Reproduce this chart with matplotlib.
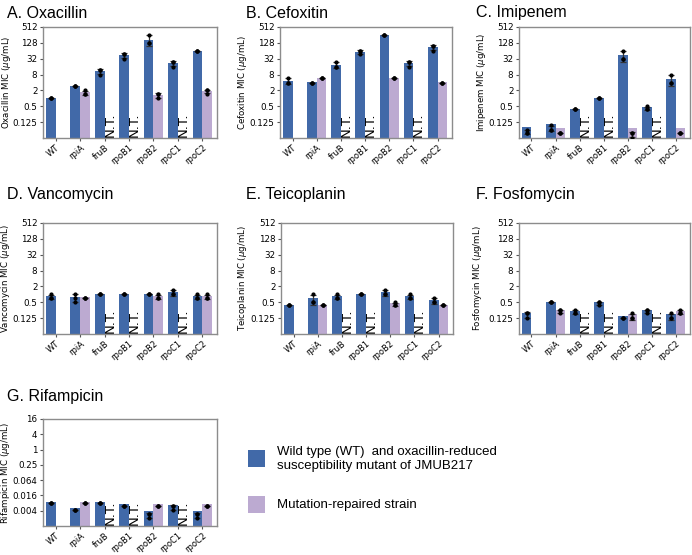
import numpy as np
import matplotlib.pyplot as plt
from matplotlib.patches import Rectangle
from matplotlib.ticker import FixedLocator, FixedFormatter, NullLocator

## strains on the x axis
strains = ['WT', 'rpiA', 'fruB', 'rpoB1', 'rpoB2', 'rpoC1', 'rpoC2']

## MIC replicates (ug/mL); None = no bar (WT has no repaired strain, N.T. = not tested)
oxa_mut = [[1, 1, 1], [3, 3, 3], [12, 12, 8], [48, 48, 32], [256, 128, 128], [24, 24, 16], [64, 64, 64]]
oxa_rep = [None, [2, 1.5, 1.5], None, None, [1.5, 1.5, 1], None, [2, 2, 1.5]]

cfx_mut = [[6, 4, 4], [4, 4, 4], [24, 16, 16], [64, 64, 48], [256, 256, 256], [24, 24, 16], [96, 96, 64]]
cfx_rep = [None, [6, 6, 6], None, None, [6, 6, 6], None, [4, 4, 4]]

ipm_mut = [[0.064, 0.047, 0.047], [0.094, 0.064, 0.064], [0.38, 0.38, 0.38], [1, 1, 1],
           [64, 32, 32], [0.5, 0.38, 0.38], [8, 4, 4]]
ipm_rep = [None, [0.047, 0.047, 0.047], None, None, [0.047, 0.047, 0.032], None, [0.047, 0.047, 0.047]]

van_mut = [[1, 0.75, 0.75], [1, 0.75, 0.5], [1, 1, 1], [1, 1, 1], [1, 1, 1], [1.5, 1, 1], [1, 0.75, 0.75]]
van_rep = [None, [0.75, 0.75, 0.75], None, None, [1, 0.75, 0.75], None, [1, 0.75, 0.75]]

tei_mut = [[0.38, 0.38, 0.38], [1, 0.5, 0.5], [1, 0.75, 0.75], [1, 1, 1], [1.5, 1, 1], [1, 0.75, 0.75], [0.75, 0.5, 0.5]]
tei_rep = [None, [0.38, 0.38, 0.38], None, None, [0.5, 0.38, 0.38], None, [0.38, 0.38, 0.38]]

fos_mut = [[0.19, 0.19, 0.125], [0.5, 0.5, 0.5], [0.25, 0.19, 0.19], [0.5, 0.5, 0.38],
           [0.125, 0.125, 0.125], [0.25, 0.25, 0.19], [0.19, 0.125, 0.125]]
fos_rep = [None, [0.25, 0.25, 0.19], None, None, [0.19, 0.125, 0.125], None, [0.25, 0.19, 0.19]]

rif_mut = [[0.008, 0.008, 0.008], [0.004, 0.004, 0.004], [0.008, 0.008, 0.008], [0.006, 0.006, 0.006],
           [0.003, 0.003, 0.002], [0.006, 0.006, 0.004], [0.003, 0.003, 0.002]]
rif_rep = [None, [0.008, 0.008, 0.008], None, None, [0.006, 0.006, 0.006], None, [0.006, 0.006, 0.006]]

not_tested = ['fruB', 'rpoB1', 'rpoC1']

ticks_std = [0.125, 0.5, 2, 8, 32, 128, 512]
labels_std = ['0.125', '0.5', '2', '8', '32', '128', '512']
ticks_rif = [2**-8, 2**-6, 2**-4, 2**-2, 1, 4, 16]
labels_rif = ['0.004', '0.016', '0.064', '0.25', '1', '4', '16']

W, H = 692, 555
blue = '#4169a8'
lav = '#bcaad1'
title_font = 'Liberation Sans'

fig = plt.figure(figsize=(W / 100, H / 100), dpi=100)


def rect(l, t, r, b):
    return [l / W, 1 - b / H, (r - l) / W, (b - t) / H]


def panel(box, title, drug, mut, rep, ylim, ticks, labels, title_xy, ylab_x):
    ax = fig.add_axes(rect(*box))
    ax.set_yscale('log', base=2)
    ax.set_ylim(*ylim)
    ax.set_xlim(-0.52, 6.6)
    for i, s in enumerate(strains):
        for vals, off, col in [(mut[i], -0.2, blue), (rep[i], 0.2, lav)]:
            if vals is None:
                continue
            v = np.array(vals, dtype=float)
            m = v.mean()
            sd = v.std(ddof=1)
            ax.bar(i + off, m, width=0.4, bottom=ylim[0], color=col, zorder=1)
            ax.errorbar(i + off, m, yerr=sd, fmt='none', ecolor='#333333',
                        elinewidth=0.9, capsize=2, capthick=0.9, zorder=2)
            ax.scatter(np.full(len(v), i + off), v, s=4, color='black', zorder=3)
        if s in not_tested:
            ax.text(i + 0.22, 0.01, 'N.T.', rotation=90, ha='center', va='bottom',
                    fontsize=9.5, transform=ax.get_xaxis_transform())
    ax.yaxis.set_major_locator(FixedLocator(ticks))
    ax.yaxis.set_major_formatter(FixedFormatter(labels))
    ax.yaxis.set_minor_locator(NullLocator())
    ax.set_xticks(range(len(strains)))
    ax.set_xticklabels(strains, rotation=40, ha='right', rotation_mode='anchor')
    ax.tick_params(labelsize=6.3, length=2.5, width=0.8, color='#555555', pad=1.5)
    ax.tick_params(axis='x', labelsize=6, pad=1)
    for sp in ax.spines.values():
        sp.set_color('#8c8c8c')
        sp.set_linewidth(1)
    fig.text(title_xy[0] / W, 1 - title_xy[1] / H, title, fontsize=11.5,
             family=title_font, ha='left', va='center')
    fig.text(ylab_x / W, 1 - (box[1] + box[3]) / 2 / H, drug + ' MIC ($\\mu$g/mL)',
             rotation=90, ha='center', va='center', fontsize=6.2)
    return ax


lim_std = (2**-5, 512)
panel((43, 27, 217, 138), 'A. Oxacillin', 'Oxacillin', oxa_mut, oxa_rep, lim_std,
      ticks_std, labels_std, (7, 13), 7)
panel((280, 27, 452, 138), 'B. Cefoxitin', 'Cefoxitin', cfx_mut, cfx_rep, lim_std,
      ticks_std, labels_std, (246, 13), 243)
panel((519, 27, 690, 138), 'C. Imipenem', 'Imipenem', ipm_mut, ipm_rep, lim_std,
      ticks_std, labels_std, (476, 13), 481)
panel((43, 223, 217, 334), 'D. Vancomycin', 'Vancomycin', van_mut, van_rep, lim_std,
      ticks_std, labels_std, (7, 195), 6)
panel((281, 223, 453, 334), 'E. Teicoplanin', 'Teicoplanin', tei_mut, tei_rep, lim_std,
      ticks_std, labels_std, (246, 195), 243)
panel((519, 223, 690, 334), 'F. Fosfomycin', 'Fosfomycin', fos_mut, fos_rep, lim_std,
      ticks_std, labels_std, (476, 195), 478)
panel((43, 419, 217, 526), 'G. Rifampicin', 'Rifampicin', rif_mut, rif_rep, (2**-10, 16),
      ticks_rif, labels_rif, (7, 397), 6)

## legend drawn by hand
fig.add_artist(Rectangle((248 / W, 1 - 467 / H), 17 / W, 17 / H, transform=fig.transFigure,
                         facecolor=blue, edgecolor='none'))
fig.add_artist(Rectangle((248 / W, 1 - 513 / H), 17 / W, 17 / H, transform=fig.transFigure,
                         facecolor=lav, edgecolor='none'))
fig.text(277 / W, 1 - 459 / H, 'Wild type (WT)  and oxacillin-reduced\nsusceptibility mutant of JMUB217',
         fontsize=9.5, family=title_font, va='center', ha='left', linespacing=1.15)
fig.text(277 / W, 1 - 505 / H, 'Mutation-repaired strain',
         fontsize=9.5, family=title_font, va='center', ha='left')

fig.savefig('out.png', dpi=100)
